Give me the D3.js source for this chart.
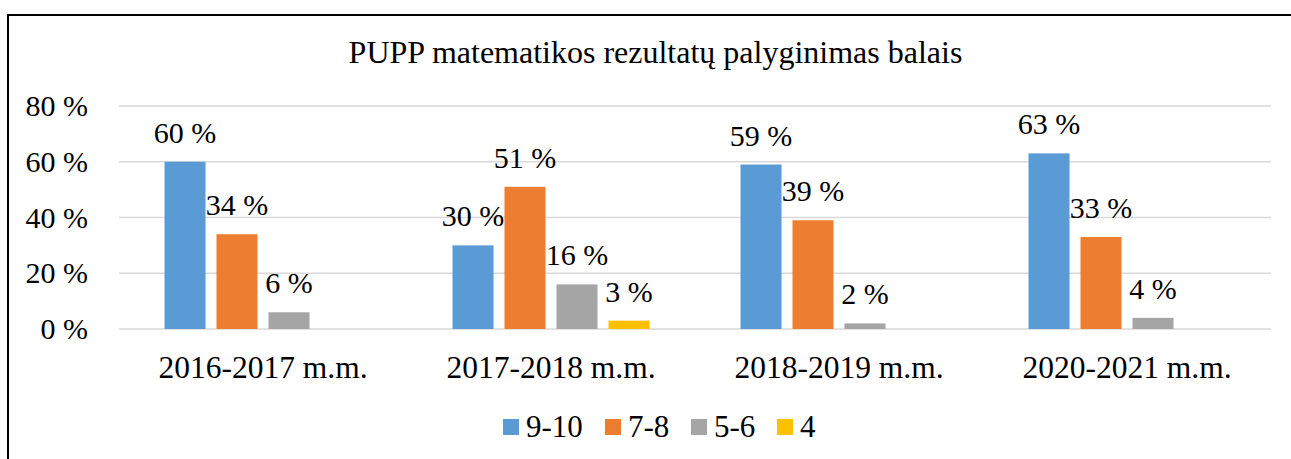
<!DOCTYPE html>
<html>
<head>
<meta charset="utf-8">
<script src="https://cdn.jsdelivr.net/npm/d3@7"></script>
<style>
  html, body { margin: 0; padding: 0; background: #fff; }
  svg { display: block; font-family: "Liberation Serif", "Times New Roman", serif; }
</style>
</head>
<body>
<div id="chart"></div>
<script>
// data
var categories = ["2016-2017 m.m.", "2017-2018 m.m.", "2018-2019 m.m.", "2020-2021 m.m."];
var seriesNames = ["9-10", "7-8", "5-6", "4"];
var seriesColors = ["#5B9BD5", "#ED7D31", "#A5A5A5", "#FFC000"];
var values910 = [60, 30, 59, 63];
var values78 = [34, 51, 39, 33];
var values56 = [6, 16, 2, 4];
var values4 = [null, 3, null, null];
var yTicks = [0, 20, 40, 60, 80];
var title = "PUPP matematikos rezultatų palyginimas balais";

var seriesValues = [values910, values78, values56, values4];

var width = 1291, height = 459;
var plotLeft = 119, plotRight = 1271, plotTop = 106, plotBottom = 329;

var svg = d3.select("#chart").append("svg")
    .attr("width", width)
    .attr("height", height);

// chart border
svg.append("rect")
    .attr("x", 8).attr("y", 15)
    .attr("width", 1295).attr("height", 470)
    .attr("fill", "none")
    .attr("stroke", "#000")
    .attr("stroke-width", 2);

// title
svg.append("text")
    .attr("x", 655.5).attr("y", 63)
    .attr("text-anchor", "middle")
    .attr("font-size", 32)
    .attr("fill", "#000")
    .text(title);

var y = d3.scaleLinear().domain([0, 80]).range([plotBottom, plotTop]);
var x0 = d3.scaleBand().domain(categories).range([plotLeft, plotRight]).padding(0);
var x1 = d3.scaleBand().domain(seriesNames).range([-98.5, 98.5]).paddingInner(11 / 52).paddingOuter(0);

// gridlines
svg.append("g")
    .selectAll("line")
    .data(yTicks)
    .enter()
    .append("line")
    .attr("x1", plotLeft).attr("x2", plotRight)
    .attr("y1", d => y(d)).attr("y2", d => y(d))
    .attr("stroke", "#D9D9D9")
    .attr("stroke-width", 1.5);

// y tick labels
svg.append("g")
    .selectAll("text")
    .data(yTicks)
    .enter()
    .append("text")
    .attr("x", 88)
    .attr("y", d => y(d) + 10)
    .attr("text-anchor", "end")
    .attr("font-size", 30)
    .text(d => d + " %");

// bars
var points = [];
categories.forEach((c, ci) => {
    seriesNames.forEach((s, si) => {
        var v = seriesValues[si][ci];
        if (v != null) points.push({ cat: c, series: s, si: si, value: v });
    });
});

var barGroup = svg.append("g");
barGroup.selectAll("rect")
    .data(points)
    .enter()
    .append("rect")
    .attr("x", d => x0(d.cat) + x0.bandwidth() / 2 + x1(d.series))
    .attr("y", d => y(d.value))
    .attr("width", x1.bandwidth())
    .attr("height", d => y(0) - y(d.value))
    .attr("fill", d => seriesColors[d.si]);

// value labels
barGroup.selectAll("text")
    .data(points)
    .enter()
    .append("text")
    .attr("x", d => x0(d.cat) + x0.bandwidth() / 2 + x1(d.series) + x1.bandwidth() / 2)
    .attr("y", d => y(d.value) - 19)
    .attr("text-anchor", "middle")
    .attr("font-size", 30)
    .text(d => d.value + " %");

// category labels
svg.append("g")
    .selectAll("text")
    .data(categories)
    .enter()
    .append("text")
    .attr("x", d => x0(d) + x0.bandwidth() / 2)
    .attr("y", 378)
    .attr("text-anchor", "middle")
    .attr("font-size", 31.5)
    .text(d => d);

// legend
var legendX = [503, 605, 691, 777];
var legend = svg.append("g")
    .selectAll("g")
    .data(seriesNames)
    .enter()
    .append("g")
    .attr("transform", (d, i) => `translate(${legendX[i]}, 419)`);
legend.append("rect")
    .attr("width", 16).attr("height", 16)
    .attr("fill", (d, i) => seriesColors[i]);
legend.append("text")
    .attr("x", 23).attr("y", 18)
    .attr("font-size", 31)
    .text(d => d);
</script>
</body>
</html>
